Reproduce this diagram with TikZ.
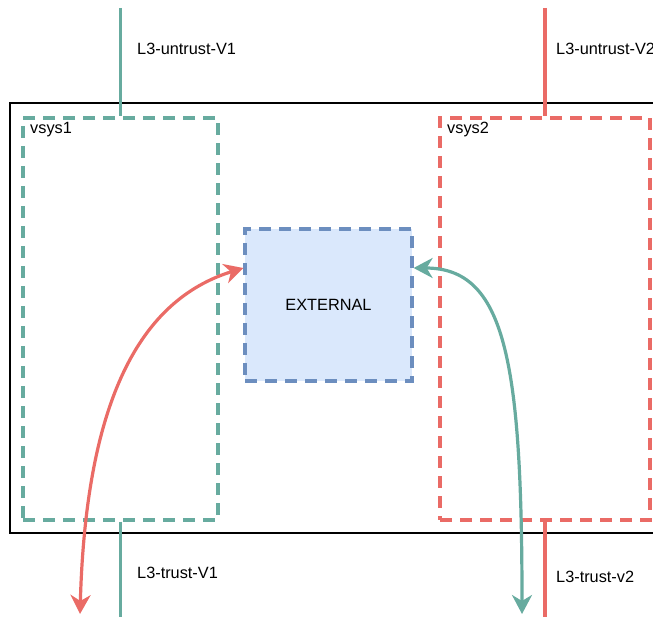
\documentclass[tikz,border=0pt]{standalone}
\usepackage{fontspec}
\setmainfont{Liberation Sans}
\usetikzlibrary{arrows.meta}
\definecolor{vgreen}{HTML}{67AB9F}
\definecolor{vred}{HTML}{EA6B66}
\definecolor{extfill}{HTML}{DAE8FC}
\definecolor{extdraw}{HTML}{6C8EBF}
\tikzset{
  vsysbox/.style={draw=#1, line width=3.2pt, dash pattern=on 12pt off 8pt,
    inner sep=0pt, anchor=center},
  link/.style={draw=#1, line width=3.2pt},
  tip/.style={Stealth[length=19pt,width=20pt,inset=6pt]},
  flow/.style={draw=#1, line width=3.2pt, {Stealth[length=19pt,width=20pt,inset=6pt]}-{Stealth[length=19pt,width=20pt,inset=6pt]}},
  lbl/.style={font=\fontsize{16.3}{19}\selectfont, anchor=west, inner sep=0pt},
}
\begin{document}
\begin{tikzpicture}[x=1pt,y=-1pt]
  \useasboundingbox (0,0) rectangle (653,617);
  % device frame
  \node (frame) [draw=black, line width=2.2pt, minimum width=655pt, minimum height=430pt,
    inner sep=0pt] at (337.5,318) {};
  % virtual systems
  \node (vsys1) [vsysbox=vgreen, minimum width=195pt, minimum height=402pt] at (120.5,319) {};
  \node (vsys2) [vsysbox=vred, minimum width=210pt, minimum height=402pt] at (545,319) {};
  \node [lbl, anchor=north west] at (30,122) {vsys1};
  \node [lbl, anchor=north west] at (447,122) {vsys2};
  % shared external zone
  \node (ext) [draw=extdraw, fill=extfill, line width=3.2pt, dash pattern=on 12pt off 8pt,
    minimum width=167pt, minimum height=152pt, inner sep=0pt,
    font=\fontsize{16.3}{19}\selectfont] at (328.5,305) {EXTERNAL};
  % interfaces
  \coordinate (u1) at (120.5,8);
  \coordinate (u2) at (545,8);
  \coordinate (t1) at (120.5,617);
  \coordinate (t2) at (545,617);
  \draw [link=vgreen] (u1) -- (vsys1.north);
  \draw [link=vred] (u2) -- (vsys2.north);
  \draw [link=vgreen] (vsys1.south) -- (t1);
  \draw [link=vred] (vsys2.south) -- (t2);
  \node [lbl] at (137,49) {L3-untrust-V1};
  \node [lbl] at (556,49) {L3-untrust-V2};
  \node [lbl] at (137,573) {L3-trust-V1};
  \node [lbl] at (556,577) {L3-trust-v2};
  % traffic flows
  \coordinate (extL) at ([yshift=37pt]ext.west);
  \coordinate (extR) at ([yshift=37pt]ext.east);
  \coordinate (out1) at (80,614);
  \coordinate (out2) at (522,614);
  \draw [flow=vred] (out1) .. controls (86,400) and (140,300) .. (extL);
  \draw [flow=vgreen] (out2) .. controls (522,360) and (505,268) .. (extR);
\end{tikzpicture}
\end{document}
